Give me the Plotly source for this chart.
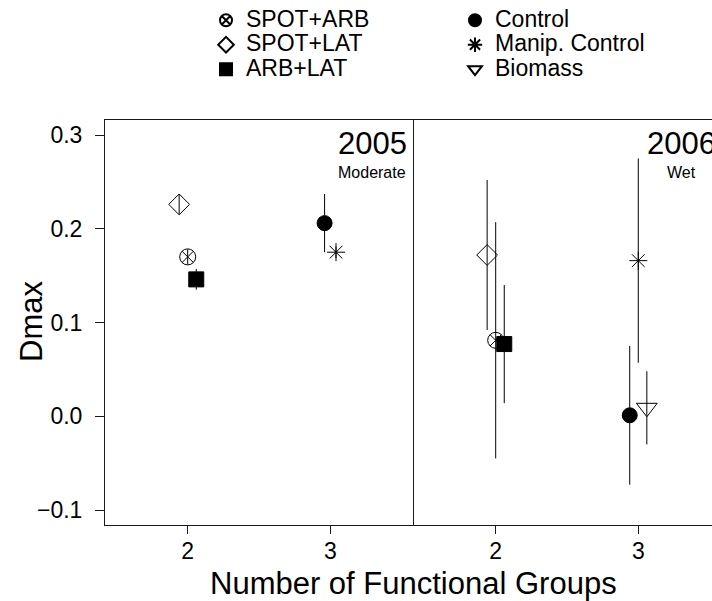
import plotly.graph_objects as go

# Treatment groups and their number of functional groups
groups = ["SPOT+ARB", "SPOT+LAT", "ARB+LAT", "Control", "Manip. Control", "Biomass"]
n_groups = [2, 2, 2, 3, 3, 3]

# Dmax means and error half-widths, 2005 (moderate year)
dmax_2005 = [0.170, 0.226, 0.146, 0.206, 0.175, None]
err_2005 = [0.008, 0.011, 0.011, 0.031, 0.006, None]

# Dmax means and error half-widths, 2006 (wet year)
dmax_2006 = [0.081, 0.172, 0.077, 0.001, 0.166, 0.009]
err_2006 = [0.126, 0.080, 0.063, 0.074, 0.109, 0.039]

# Horizontal dodge so overlapping groups stay readable
dodge_2005 = [0.0, -0.06, 0.06, -0.04, 0.04, 0.0]
dodge_2006 = [0.0, -0.06, 0.06, -0.06, 0.0, 0.06]

y_ticks = [-0.1, 0.0, 0.1, 0.2, 0.3]
y_ticktext = ["\u22120.1", "0.0", "0.1", "0.2", "0.3"]
x_ticks = [2, 3]
x_ticktext = ["2", "3"]

symbols = {
    "SPOT+ARB": ("circle-x-open", 16),
    "SPOT+LAT": ("diamond-open", 16),
    "ARB+LAT": ("square", 15),
    "Control": ("circle", 15),
    "Manip. Control": ("asterisk-open", 15),
    "Biomass": ("triangle-down-open", 18),
}
# two-column legend, filled row by row
legend_rank = {"SPOT+ARB": 1, "Control": 2, "SPOT+LAT": 3,
               "Manip. Control": 4, "ARB+LAT": 5, "Biomass": 6}

FONT = "Liberation Sans, Arial, Helvetica, sans-serif"
W, H = 712, 601
ML, MT, MB = 105, 120, 76
PW = W - ML
PH = H - MT - MB
split = 308 / PW

fig = go.Figure()

panels = [
    (dmax_2005, err_2005, dodge_2005, "x", "y"),
    (dmax_2006, err_2006, dodge_2006, "x2", "y2"),
]
shown = set()
for vals, errs, dodge, xa, ya in panels:
    for i, g in enumerate(groups):
        if vals[i] is None:
            continue
        sym, size = symbols[g]
        show = g not in shown
        shown.add(g)
        fig.add_trace(go.Scatter(
            x=[n_groups[i] + dodge[i]], y=[vals[i]],
            xaxis=xa, yaxis=ya,
            mode="markers",
            # larger label text on a compact legend row
            name=f'<span style="font-size:23px">{g}</span>',
            showlegend=show,
            legendrank=legend_rank[g],
            marker=dict(symbol=sym, size=size, color="black",
                        line=dict(color="black", width=1)),
            error_y=dict(type="data", array=[errs[i]], visible=True,
                         width=0, thickness=1, color="black"),
        ))

axis_common = dict(showgrid=False, zeroline=False, showline=True,
                   linecolor="#1a1a1a", linewidth=1, ticks="outside",
                   tickcolor="#1a1a1a", tickfont=dict(size=23, color="black"))

fig.update_layout(
    width=W, height=H,
    margin=dict(l=ML, r=0, t=MT, b=MB, pad=0),
    paper_bgcolor="white", plot_bgcolor="white",
    font=dict(family=FONT, color="black"),
    xaxis=dict(domain=[0, split], range=[1.42, 3.58], tickvals=x_ticks,
               ticktext=x_ticktext, ticklen=8, ticklabelstandoff=-3,
               mirror=True, anchor="y", **axis_common),
    xaxis2=dict(domain=[split, 1], range=[1.42, 3.517], tickvals=x_ticks,
                ticktext=x_ticktext, ticklen=8, ticklabelstandoff=-3,
                mirror=True, anchor="y2", **axis_common),
    yaxis=dict(range=[-0.116, 0.316], tickvals=y_ticks, ticktext=y_ticktext,
               ticklen=9, ticklabelstandoff=8, mirror=True, anchor="x",
               **axis_common),
    yaxis2=dict(range=[-0.116, 0.316], anchor="x2", showline=False,
                showgrid=False, zeroline=False, showticklabels=False,
                ticks=""),
    showlegend=True,
    legend=dict(orientation="h", x=(206 - ML) / PW, xanchor="left",
                y=1 + (MT - 3) / PH, yanchor="top",
                entrywidth=204, entrywidthmode="pixels",
                itemsizing="constant", font=dict(size=16.5),
                bgcolor="rgba(0,0,0,0)", borderwidth=0),
)

def px_x(p):
    return (p - ML) / PW

def px_y(p):
    return (H - MB - p) / PH

annots = [
    dict(text="2005", x=px_x(372), y=px_y(143), size=31),
    dict(text="Moderate", x=px_x(372), y=px_y(172), size=16),
    dict(text="2006", x=px_x(681), y=px_y(143), size=31),
    dict(text="Wet", x=px_x(681), y=px_y(172), size=16),
    dict(text="Number of Functional Groups", x=px_x(413), y=px_y(583), size=31),
]
for a in annots:
    fig.add_annotation(text=a["text"], xref="paper", yref="paper",
                       x=a["x"], y=a["y"], xanchor="center", yanchor="middle",
                       showarrow=False, font=dict(size=a["size"], color="black"))
fig.add_annotation(text="Dmax", xref="paper", yref="paper", x=px_x(31),
                   y=px_y(322), xanchor="center", yanchor="middle",
                   textangle=-90, showarrow=False,
                   font=dict(size=31, color="black"))

fig.write_html("out.html")
